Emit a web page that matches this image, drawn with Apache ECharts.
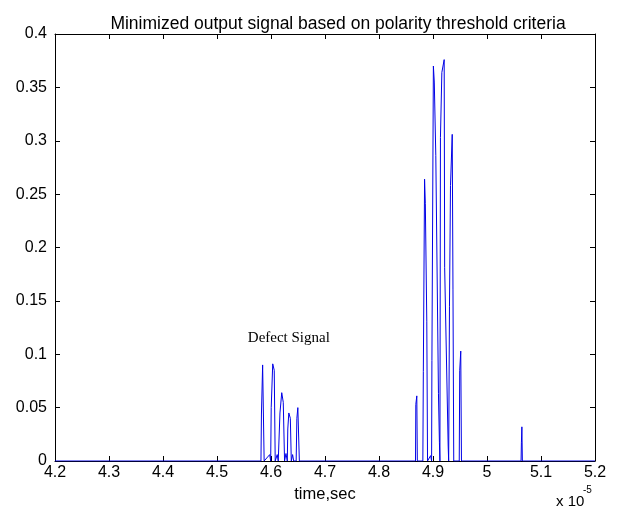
<!DOCTYPE html>
<html>
<head>
<meta charset="UTF-8">
<title></title>
<script src="https://cdn.jsdelivr.net/npm/echarts@6/dist/echarts.min.js"></script>
</head>
<body style="margin:0;background:#fff">
<div id="main" style="width:618px;height:513px;"></div>
<script>
// time in units of 1e-5 s, amplitude
var timeX = [4.2, 4.5814, 4.5823, 4.5845, 4.5873, 4.5976, 4.5994, 4.6004, 4.6032, 4.6060, 4.6078,
    4.6115, 4.6134, 4.6153, 4.6166, 4.6199, 4.6227, 4.6251, 4.6277, 4.6302, 4.6311, 4.6330,
    4.6358, 4.6376, 4.6400, 4.6420, 4.6466, 4.6479, 4.6497, 4.6525,
    4.8676, 4.8682, 4.8700, 4.8710, 4.8812, 4.8821, 4.8844, 4.8858, 4.8885, 4.8899, 4.8955,
    4.8974, 4.8980, 4.9007, 4.9024, 4.9052, 4.9101, 4.9119, 4.9128, 4.9138, 4.9164, 4.9207,
    4.9216, 4.9281, 4.9290, 4.9305, 4.9324, 4.9356, 4.9370, 4.9384, 4.9486, 4.9495, 4.9514,
    4.9527, 5.0631, 5.0637, 5.0646, 5.0655, 5.2];
var amp = [0, 0, 0.044, 0.090, 0, 0.006, 0, 0.050, 0.091, 0.085, 0,
    0.006, 0, 0, 0.045, 0.064, 0.055, 0, 0.007, 0, 0.030, 0.045,
    0.040, 0, 0.006, 0, 0, 0.040, 0.050, 0,
    0, 0.053, 0.061, 0, 0, 0.084, 0.264, 0.241, 0.131, 0, 0.005,
    0, 0.094, 0.370, 0.355, 0.286, 0.063, 0.017, 0, 0.303, 0.364, 0.376,
    0.181, 0.014, 0, 0.145, 0.258, 0.306, 0.161, 0, 0, 0.085, 0.103,
    0, 0, 0.017, 0.032, 0, 0];
var noteText = 'Defect Signal';
var notePos = [4.633, 0.115];

var pts = [];
for (var i = 0; i < timeX.length; i++) pts.push([timeX[i], amp[i]]);

var font = 'Liberation Sans, Arial, sans-serif';
var myChart = echarts.init(document.getElementById('main'));

function axisX(pos, showLabel) {
    return {
        type: 'value', position: pos, min: 4.2, max: 5.2, interval: 0.1,
        axisLine: { show: true, onZero: false, lineStyle: { color: '#000', width: 1 } },
        axisTick: { show: true, inside: true, length: 5, lineStyle: { color: '#000' } },
        axisLabel: { show: showLabel, color: '#000', fontSize: 16, fontFamily: font, margin: 4 },
        splitLine: { show: false },
        name: showLabel ? 'time,sec' : '', nameLocation: 'middle', nameGap: 22,
        nameTextStyle: { color: '#000', fontSize: 16.5, fontFamily: font, verticalAlign: 'top' }
    };
}
function axisY(pos, showLabel) {
    return {
        type: 'value', position: pos, min: 0, max: 0.4, interval: 0.05,
        axisLine: { show: true, onZero: false, lineStyle: { color: '#000', width: 1 } },
        axisTick: { show: true, inside: true, length: 5, lineStyle: { color: '#000' } },
        axisLabel: { show: showLabel, color: '#000', fontSize: 16, fontFamily: font, margin: 8 },
        splitLine: { show: false }
    };
}

myChart.setOption({
    animation: false,
    backgroundColor: '#fff',
    title: {
        text: 'Minimized output signal based on polarity threshold criteria',
        left: 333, top: 10, textAlign: 'center',
        textStyle: { color: '#000', fontSize: 17.5, fontWeight: 'normal', fontFamily: font }
    },
    grid: { left: 55, right: 23, top: 34, bottom: 52 },
    xAxis: [axisX('bottom', true), axisX('top', false)],
    yAxis: [axisY('left', true), axisY('right', false)],
    series: [{
        type: 'line',
        data: pts,
        showSymbol: false,
        lineStyle: { color: '#0000e6', width: 1 },
        markPoint: {
            symbol: 'circle', symbolSize: 0,
            data: [{ coord: notePos, value: noteText }],
            label: {
                show: true, formatter: noteText, color: '#000', fontSize: 15,
                fontFamily: 'Liberation Serif, Times New Roman, serif', position: 'inside'
            }
        }
    }],
    graphic: [
        { type: 'text', left: 556, top: 494, style: { text: 'x 10', fill: '#000', fontSize: 15, fontFamily: font } },
        { type: 'text', left: 583, top: 485, style: { text: '-5', fill: '#000', fontSize: 10, fontFamily: font } }
    ]
});
</script>
</body>
</html>
